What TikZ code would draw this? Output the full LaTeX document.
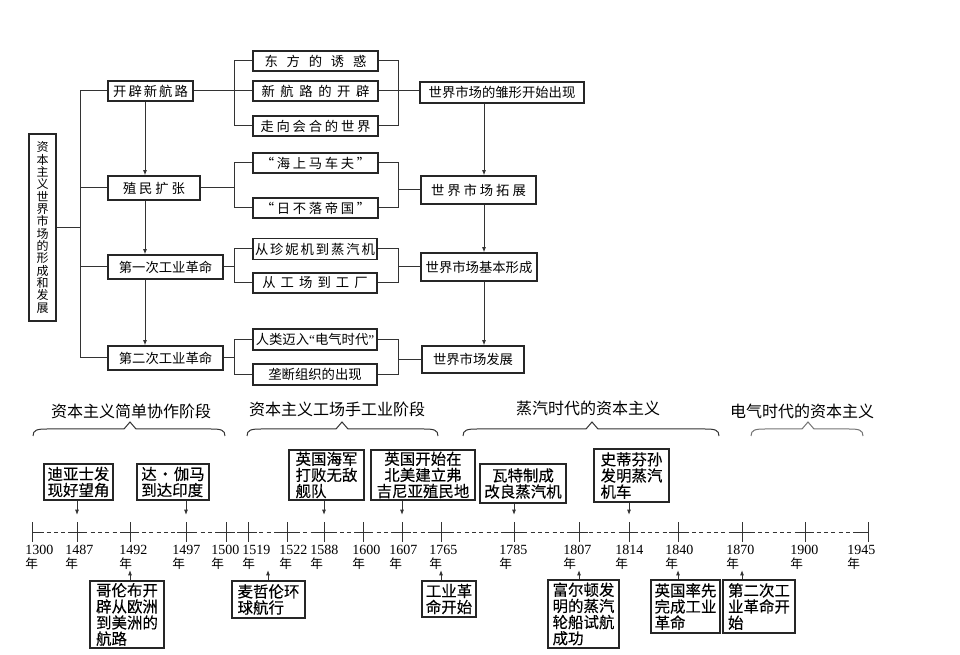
\documentclass[tikz,border=0pt]{standalone}
\usepackage{fontspec}
\setmainfont{Noto Sans CJK SC}
\newfontfamily\numfont{Liberation Serif}
\newfontfamily\heavycjk{Noto Sans CJK SC}[FakeBold=0.25]
\usetikzlibrary{arrows.meta}
\newcommand{\phbrace}[4][]{\draw[brc,#1] (#2,436) .. controls (#2,430) and (#2+4,429) .. (#2+14,429) -- (#4-6,429) -- (#4,422) -- (#4+6,429) -- (#3-14,429) .. controls (#3-4,429) and (#3,430) .. (#3,436);}
\tikzset{
  ln/.style={draw=black!80, line width=0.75pt},
  arr/.style={ln, -{Latex[length=4pt,width=3pt]}},
  bx/.style 2 args={draw=black!85, line width=0.8pt, minimum width=#1*0.75pt, minimum height=#2*0.75pt, inner sep=0pt, font=\fontsize{10}{12}\selectfont},
  tb/.style 2 args={bx={#1}{#2}, font=\heavycjk\fontsize{11.6}{12.1}\selectfont, align=left},
  yr/.style={inner sep=0pt, font=\fontsize{9.5}{10.5}\selectfont, align=left},
  ph/.style={font=\fontsize{12}{14}\selectfont, inner sep=0pt},
  brc/.style={draw=black!80, line width=0.75pt},
}
\begin{document}
\begin{tikzpicture}[x=0.75pt,y=-0.75pt]
\useasboundingbox (0,0) rectangle (960,655);
% ---------- top diagram ----------
\node[bx={27}{187}, align=center, font=\fontsize{9}{9.25}\selectfont] (root) at (42.5,227.5) {资\\本\\主\\义\\世\\界\\市\\场\\的\\形\\成\\和\\发\\展};
\node[bx={85}{20}] (b1) at (150.5,91) {\makebox[56pt][s]{开\hfill 辟\hfill 新\hfill 航\hfill 路}};
\node[bx={92}{24}] (b2) at (154,188) {\makebox[46.5pt][s]{殖\hfill 民\hfill 扩\hfill 张}};
\node[bx={115}{24}] (b3) at (165.5,267) {第一次工业革命};
\node[bx={115}{24}] (b4) at (165.5,358) {第二次工业革命};

\node[bx={125}{20}] (m11) at (315.5,61) {\makebox[76.5pt][s]{东\hfill 方\hfill 的\hfill 诱\hfill 惑}};
\node[bx={125}{20}] (m12) at (315.5,91) {\makebox[81pt][s]{新\hfill 航\hfill 路\hfill 的\hfill 开\hfill 辟}};
\node[bx={125}{20}] (m13) at (315.5,126) {\makebox[82.5pt][s]{走\hfill 向\hfill 会\hfill 合\hfill 的\hfill 世\hfill 界}};
\node[bx={125}{20}] (m21) at (315.5,163) {\makebox[82pt][s]{“\hfill 海\hfill 上\hfill 马\hfill 车\hfill 夫\hfill ”}};
\node[bx={125}{20}] (m22) at (315.5,208) {\makebox[82pt][s]{“\hfill 日\hfill 不\hfill 落\hfill 帝\hfill 国\hfill ”}};
\node[bx={124}{21}] (m31) at (315,249) {\makebox[90pt][s]{从\hfill 珍\hfill 妮\hfill 机\hfill 到\hfill 蒸\hfill 汽\hfill 机}};
\node[bx={124}{20}] (m32) at (315,283) {\makebox[79pt][s]{从\hfill 工\hfill 场\hfill 到\hfill 工\hfill 厂}};
\node[bx={124}{21}] (m41) at (315,339.5) {人类迈入{\numfont“}电气时代{\numfont”}};
\node[bx={124}{21}] (m42) at (315,374.5) {垄断组织的出现};

\node[bx={164}{21}] (w1) at (502,92.5) {\makebox[110pt][s]{世\hfill 界\hfill 市\hfill 场\hfill 的\hfill 雏\hfill 形\hfill 开\hfill 始\hfill 出\hfill 现}};
\node[bx={115}{28}] (w2) at (478.5,190) {\makebox[71pt][s]{世\hfill 界\hfill 市\hfill 场\hfill 拓\hfill 展}};
\node[bx={116}{28}] (w3) at (479,267) {世界市场基本形成};
\node[bx={102}{27}] (w4) at (473,359.5) {世界市场发展};

% spine
\coordinate (sp) at (80,227.5);
\draw[ln] (root.east) -- (sp);
\draw[ln] (b1.west) -| (sp);
\draw[ln] (b4.west) -| (sp);
\draw[ln] (b2.west) -- (b2.west -| sp);
\draw[ln] (b3.west) -- (b3.west -| sp);
% left arrows
\coordinate (ax) at (145,0);
\draw[arr] (b1.south -| ax) -- (b2.north -| ax);
\draw[arr] (b2.south -| ax) -- (b3.north -| ax);
\draw[arr] (b3.south -| ax) -- (b4.north -| ax);
% brackets
\coordinate (gl) at (234,0);
\coordinate (gr) at (398,0);
\draw[ln] (m11.west) -| (m13.west -| gl) -- (m13.west);
\draw[ln] (b1.east) -- (m12.west);
\draw[ln] (m11.east) -| (m13.east -| gr) -- (m13.east);
\draw[ln] (m12.east) -- (m12.east -| w1.west);

\draw[ln] (m21.west) -| (m22.west -| gl) -- (m22.west);
\draw[ln] (b2.east) -- (b2.east -| gl);
\draw[ln] (m21.east) -| (m22.east -| gr) -- (m22.east);
\draw[ln] (gr |- w2.west) -- (w2.west);

\draw[ln] (m31.west) -| (m32.west -| gl) -- (m32.west);
\draw[ln] (b3.east) -- (b3.east -| gl);
\draw[ln] (m31.east) -| (m32.east -| gr) -- (m32.east);
\draw[ln] (gr |- w3.west) -- (w3.west);

\draw[ln] (m41.west) -| (m42.west -| gl) -- (m42.west);
\draw[ln] (b4.east) -- (b4.east -| gl);
\draw[ln] (m41.east) -| (m42.east -| gr) -- (m42.east);
\draw[ln] (gr |- w4.west) -- (w4.west);
% right arrows
\coordinate (rx) at (484,0);
\draw[arr] (w1.south -| rx) -- (w2.north -| rx);
\draw[arr] (w2.south -| rx) -- (w3.north -| rx);
\draw[arr] (w3.south -| rx) -- (w4.north -| rx);

% ---------- phases ----------
\node[ph] (ph1) at (131,411) {资本主义简单协作阶段};
\node[ph] (ph2) at (337,409) {资本主义工场手工业阶段};
\node[ph] (ph3) at (588,408) {蒸汽时代的资本主义};
\node[ph] (ph4) at (802,411) {电气时代的资本主义};
\phbrace{33}{225}{130}
\phbrace{247}{438}{342}
\phbrace{463}{719}{592}
\phbrace[draw=black!55]{751}{863}{808}

% ---------- timeline ----------
\foreach \yr/\x/\lx in {1300/32/25, 1487/77/65, 1492/130/119, 1497/186/172, 1500/226/211, 1519/248/242, 1522/287/279, 1588/324/310, 1600/363/352, 1607/402/389, 1765/441/429, 1785/514/499, 1807/579/563, 1814/629/615, 1840/678/665, 1870/742/726, 1900/805/790, 1945/868/847}{
  \coordinate (t\yr) at (\x,532);
  \draw[ln] (t\yr) ++(0,-10) -- ++(0,20);
  \node[yr, anchor=north west] (y\yr) at (\lx,545) {{\numfont\fontsize{10.5}{10.5}\selectfont\yr}\\年};
}
\draw[ln, dash pattern=on 3pt off 2.5pt] (t1300) -- (t1945);
\foreach \yr in {1487,1492,1497,1500,1519,1522,1588,1600,1607,1765,1785,1807,1814,1840,1870,1900}{
  \draw[ln] (t\yr) ++(-9,0) -- ++(18,0);
}
\draw[ln] (t1300) -- ++(12,0);
\draw[ln] (t1945) -- ++(-12,0);

% upper boxes
\node[tb={69}{36}] (dias) at (78.5,482) {迪亚士发\\现好望角};
\node[tb={72}{36}] (gama) at (173,482) {达\hspace{0.05em}·\hspace{0.05em}伽马\\到达印度};
\node[tb={75}{50}] (armada) at (326.5,475) {英国海军\\打败无敌\\舰队};
\node[tb={104}{50}, align=center] (virginia) at (423,475) {英国开始在\\北美建立弗\\吉尼亚殖民地};
\node[tb={86}{39}, align=center] (watt) at (523,483.5) {瓦特制成\\改良蒸汽机};
\node[tb={75}{53}] (steph) at (631.5,475.5) {史蒂芬孙\\发明蒸汽\\机车};
% lower boxes
\node[tb={74}{67}] (columbus) at (127,614.5) {哥伦布开\\辟从欧洲\\到美洲的\\航路};
\node[tb={73}{37}] (magellan) at (268.5,599.5) {麦哲伦环\\球航行};
\node[tb={54}{36}] (indrev) at (449,599) {工业革\\命开始};
\node[tb={71}{68}] (fulton) at (583.5,614) {富尔顿发\\明的蒸汽\\轮船试航\\成功};
\node[tb={69}{53}] (brit) at (685.5,606.5) {英国率先\\完成工业\\革命};
\node[tb={72}{53}] (second) at (759,606.5) {第二次工\\业革命开\\始};

\coordinate (ua) at (0,515);
\coordinate (la) at (0,570);
\draw[arr] (dias.south -| t1487) -- (t1487 |- ua);
\draw[arr] (gama.south -| t1497) -- (t1497 |- ua);
\draw[arr] (armada.south -| t1588) -- (t1588 |- ua);
\draw[arr] (virginia.south -| t1607) -- (t1607 |- ua);
\draw[arr] (watt.south -| t1785) -- (t1785 |- ua);
\draw[arr] (steph.south -| t1814) -- (t1814 |- ua);

\coordinate (mg) at (268,0);
\draw[arr] (columbus.north -| t1492) -- (t1492 |- la);
\draw[arr] (magellan.north -| mg) -- (mg |- la);
\draw[arr] (indrev.north -| t1765) -- (t1765 |- la);
\draw[arr] (fulton.north -| t1807) -- (t1807 |- la);
\draw[arr] (brit.north -| t1840) -- (t1840 |- la);
\draw[arr] (second.north -| t1870) -- (t1870 |- la);
\end{tikzpicture}
\end{document}
